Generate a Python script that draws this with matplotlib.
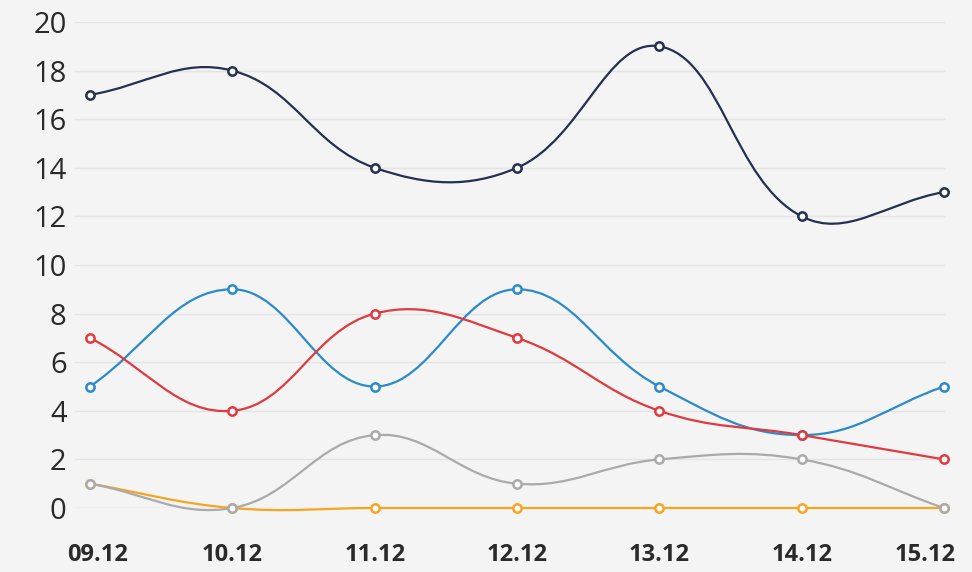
import numpy as np
import matplotlib.pyplot as plt
import matplotlib.transforms as mtransforms
from matplotlib.path import Path
from matplotlib.patches import PathPatch

plt.rcParams['font.family'] = ['Open Sans', 'DejaVu Sans']

# данные
dates = ['09.12', '10.12', '11.12', '12.12', '13.12', '14.12', '15.12']
navy = [17, 18, 14, 14, 19, 12, 13]
blue = [5, 9, 5, 9, 5, 3, 5]
red = [7, 4, 8, 7, 4, 3, 2]
gray = [1, 0, 3, 1, 2, 2, 0]
orange = [1, 0, 0, 0, 0, 0, 0]

series = [
    (orange, '#f7a520'),
    (gray, '#aaaaaa'),
    (blue, '#2b8bc8'),
    (red, '#df3a3f'),
    (navy, '#233050'),
]

bg = '#f4f4f4'
fig = plt.figure(figsize=(9.72, 5.72), dpi=100, facecolor=bg)
ax = fig.add_axes([75 / 972, 1 - 508 / 572, 870 / 972, 486 / 572])
ax.set_facecolor(bg)

x = np.arange(len(dates))
ax.set_xlim(-15 / 142.3, 6 + 1 / 142.3)
ax.set_ylim(0, 20)

for s in ax.spines.values():
    s.set_visible(False)
ax.set_yticks(np.arange(0, 21, 2))
ax.yaxis.grid(True, color='#e4e4e4', linewidth=1)
ax.set_axisbelow(True)
ax.tick_params(axis='both', length=0)
ax.tick_params(axis='y', labelsize=21, labelcolor='#2a2a2a', pad=6)
ax.set_xticks(x)
ax.set_xticklabels(dates, fontsize=17, fontweight='bold', color='#2a2a2a')
ax.tick_params(axis='x', pad=25)

# первая и последняя подписи сдвинуты внутрь, как в оригинале
labels = ax.get_xticklabels()
labels[0].set_transform(labels[0].get_transform() +
                        mtransforms.ScaledTranslation(8 / 100, 0, fig.dpi_scale_trans))
labels[-1].set_transform(labels[-1].get_transform() +
                         mtransforms.ScaledTranslation(-19 / 100, 0, fig.dpi_scale_trans))


def spline_path(xs, ys, tension=0.4):
    # контрольные точки в пиксельных координатах (как в Chart.js)
    pts = ax.transData.transform(np.column_stack([xs, ys]))
    n = len(pts)
    verts = [pts[0]]
    codes = [Path.MOVETO]
    cps = []
    for i in range(n):
        prev = pts[max(i - 1, 0)]
        cur = pts[i]
        nxt = pts[min(i + 1, n - 1)]
        d01 = np.hypot(*(cur - prev))
        d12 = np.hypot(*(nxt - cur))
        tot = d01 + d12
        s01 = d01 / tot if tot else 0
        s12 = d12 / tot if tot else 0
        c1 = cur - tension * s01 * (nxt - prev)
        c2 = cur + tension * s12 * (nxt - prev)
        cps.append((c1, c2))
    for i in range(n - 1):
        verts += [cps[i][1], cps[i + 1][0], pts[i + 1]]
        codes += [Path.CURVE4] * 3
    verts = ax.transData.inverted().transform(np.array(verts))
    return Path(verts, codes)


for vals, col in series:
    p = spline_path(x, vals)
    ax.add_patch(PathPatch(p, facecolor='none', edgecolor=col, linewidth=1.6,
                           clip_on=False, zorder=3))
    ax.plot(x, vals, linestyle='none', marker='o', markersize=6,
            markerfacecolor='white', markeredgecolor=col, markeredgewidth=1.8,
            clip_on=False, zorder=4)

fig.savefig('out.png', dpi=100, facecolor=bg)
